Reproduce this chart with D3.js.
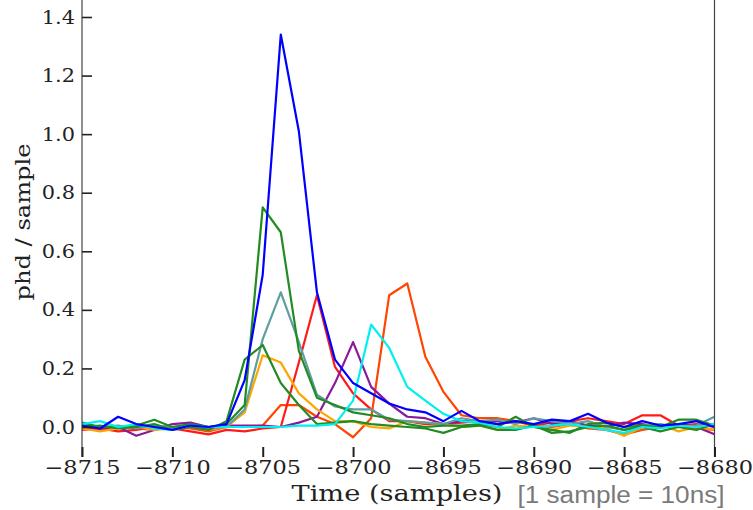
<!DOCTYPE html>
<html>
<head>
<meta charset="utf-8">
<script src="https://cdn.jsdelivr.net/npm/d3@7"></script>
<style>
  html, body { margin: 0; padding: 0; background: #fff; }
  svg { display: block; }
</style>
</head>
<body>
<svg id="chart" width="753" height="510"></svg>
<script>
// ---------- data ----------
const times = d3.range(-8715, -8679); // -8715 ... -8680 (36 samples)

const blue      = [0.005,-0.005,0.035,0.01,0.0,-0.01,0.005,0.0,0.01,0.16,0.52,1.34,1.01,0.46,0.23,0.15,0.115,0.08,0.06,0.05,0.02,0.055,0.02,0.01,0.02,0.01,0.025,0.02,0.045,0.015,0.0,0.02,0.005,0.01,0.02,0.0];
const greenA    = [0.015,0.0,0.0,0.005,0.025,0.0,0.01,0.0,0.01,0.075,0.75,0.665,0.26,0.10,0.075,0.05,0.04,0.03,0.01,0.0,0.005,0.005,0.01,0.0,0.035,0.0,-0.01,-0.02,0.01,0.015,0.0,0.005,0.0,0.025,0.025,0.005];
const greenB    = [0.0,0.005,-0.005,0.0,0.01,-0.01,0.0,-0.01,0.02,0.23,0.28,0.15,0.075,0.01,0.015,0.02,0.01,0.005,0.0,-0.005,-0.02,0.0,0.005,-0.01,-0.01,0.005,-0.02,-0.015,0.0,0.005,-0.01,0.0,-0.015,0.0,-0.01,0.01];
const teal      = [0.01,0.0,0.005,-0.005,0.005,0.0,0.005,-0.005,0.0,0.06,0.30,0.46,0.29,0.11,0.07,0.06,0.06,0.025,0.02,0.015,0.01,0.03,0.02,0.025,0.01,0.03,0.02,0.01,0.02,0.0,-0.01,0.005,0.01,0.0,0.005,0.035];
const orange    = [-0.005,-0.015,-0.005,0.0,-0.01,-0.005,0.0,-0.01,0.0,0.05,0.245,0.22,0.115,0.06,0.02,0.02,0.0,-0.005,0.02,0.015,0.01,0.0,0.005,-0.01,0.005,0.0,-0.01,0.005,0.0,-0.005,-0.03,0.0,0.01,-0.015,0.0,-0.01];
const red       = [-0.01,-0.005,-0.015,-0.01,0.0,-0.005,-0.015,-0.025,-0.01,-0.015,-0.005,0.0,0.22,0.45,0.205,0.115,0.06,0.02,0.02,0.01,0.01,0.015,0.02,0.01,0.02,0.005,0.015,0.02,0.03,0.02,0.01,0.04,0.04,0.005,0.01,0.0];
const orangered = [-0.005,-0.01,0.0,-0.005,-0.01,0.0,-0.005,-0.015,0.0,0.0,0.005,0.075,0.075,0.035,0.01,-0.035,0.03,0.45,0.49,0.24,0.12,0.04,0.03,0.03,0.02,0.005,0.0,0.01,-0.005,-0.01,-0.025,-0.01,0.0,0.005,-0.005,-0.01];
const purple    = [0.0,-0.005,0.0,-0.03,-0.01,0.01,0.015,0.0,0.005,0.005,0.005,0.0,0.015,0.035,0.15,0.29,0.137,0.08,0.035,0.03,0.01,0.02,0.02,0.02,0.015,0.03,0.01,0.02,0.005,0.0,0.015,0.01,0.0,0.01,0.0,-0.025];
const cyan      = [0.01,0.02,0.0,0.01,-0.005,-0.01,0.005,0.0,0.0,0.0,0.0,0.0,0.005,0.005,0.01,0.09,0.35,0.27,0.137,0.09,0.045,0.02,0.015,0.0,-0.005,0.0,0.005,0.01,0.0,-0.01,-0.02,0.0,-0.005,0.005,0.0,0.01];

const seriesNames  = ["orangered","red","purple","orange","teal","greenB","greenA","cyan","blue"];
const seriesValues = [orangered, red, purple, orange, teal, greenB, greenA, cyan, blue];
const seriesColors = ["#ff4500","#ff1a1a","#8a1a9a","#ffa500","#5f9ea0","#228b22","#228b22","#00f0f0","#0000ff"];

const xTicks = [-8715,-8710,-8705,-8700,-8695,-8690,-8685,-8680];
const yTicks = [0.0,0.2,0.4,0.6,0.8,1.0,1.2,1.4];

// ---------- layout ----------
const svg = d3.select("#chart");
const left = 82, right = 714.5, bottom = 457;
const x = d3.scaleLinear().domain([-8715, -8680]).range([left, right]);
const y = d3.scaleLinear().domain([0, 1.4]).range([427, 17]);

const serif = "'DejaVu Serif', serif";
const stretch = function(f) {
  return function() {
    const w = this.getComputedTextLength();
    d3.select(this).attr("textLength", w * f).attr("lengthAdjust", "spacingAndGlyphs");
  };
};

// clip
svg.append("defs").append("clipPath").attr("id", "clip")
  .append("rect").attr("x", left).attr("y", -10).attr("width", right - left).attr("height", bottom + 10);

// lines
const line = d3.line().x((d, i) => x(times[i])).y(d => y(d));
const g = svg.append("g").attr("clip-path", "url(#clip)");
seriesValues.forEach((vals, k) => {
  g.append("path")
    .datum(vals)
    .attr("class", "series " + seriesNames[k])
    .attr("fill", "none")
    .attr("stroke", seriesColors[k])
    .attr("stroke-width", 2.2)
    .attr("stroke-linejoin", "round")
    .attr("d", line);
});

// spines
svg.append("line").attr("x1", left).attr("x2", left).attr("y1", 0).attr("y2", bottom)
  .attr("stroke", "#444").attr("stroke-width", 1.2);
svg.append("line").attr("x1", right).attr("x2", right).attr("y1", 0).attr("y2", bottom)
  .attr("stroke", "#444").attr("stroke-width", 1.2);

// y axis (inward ticks)
const yAxis = d3.axisLeft(y).tickValues(yTicks).tickFormat(d3.format(".1f"))
  .tickSizeInner(-10).tickSizeOuter(0).tickPadding(7);
const ya = svg.append("g").attr("transform", `translate(${left},0)`).call(yAxis);
ya.select(".domain").remove();
ya.selectAll(".tick line").attr("stroke", "#222").attr("stroke-width", 1.6);
ya.selectAll(".tick text").attr("font-family", serif).attr("font-size", 19).attr("fill", "#222")
  .each(stretch(1.1));

// x axis (inward ticks at bottom)
const xAxis = d3.axisBottom(x).tickValues(xTicks).tickFormat(d => d3.format("d")(d).replace("-", "\u2212"))
  .tickSizeInner(-10).tickSizeOuter(0).tickPadding(3);
const xa = svg.append("g").attr("transform", `translate(0,${bottom})`).call(xAxis);
xa.select(".domain").remove();
xa.selectAll(".tick line").attr("stroke", "#222").attr("stroke-width", 2);
xa.selectAll(".tick text").attr("font-family", serif).attr("font-size", 19).attr("fill", "#222")
  .each(stretch(1.18));

// axis labels
svg.append("text").attr("x", 397).attr("y", 501).attr("text-anchor", "middle")
  .attr("font-family", serif).attr("font-size", 23).attr("fill", "#222")
  .attr("textLength", 211).attr("lengthAdjust", "spacingAndGlyphs")
  .text("Time (samples)");

svg.append("text").attr("x", 621).attr("y", 503).attr("text-anchor", "middle")
  .attr("font-family", "'Liberation Sans', Arial, sans-serif").attr("font-size", 23).attr("fill", "#7a7a7a")
  .attr("textLength", 207).attr("lengthAdjust", "spacingAndGlyphs")
  .text("[1 sample = 10ns]");

svg.append("text").attr("transform", "translate(30,222) rotate(-90)").attr("text-anchor", "middle")
  .attr("font-family", serif).attr("font-size", 21).attr("fill", "#222")
  .attr("textLength", 157).attr("lengthAdjust", "spacingAndGlyphs")
  .text("phd / sample");
</script>
</body>
</html>
